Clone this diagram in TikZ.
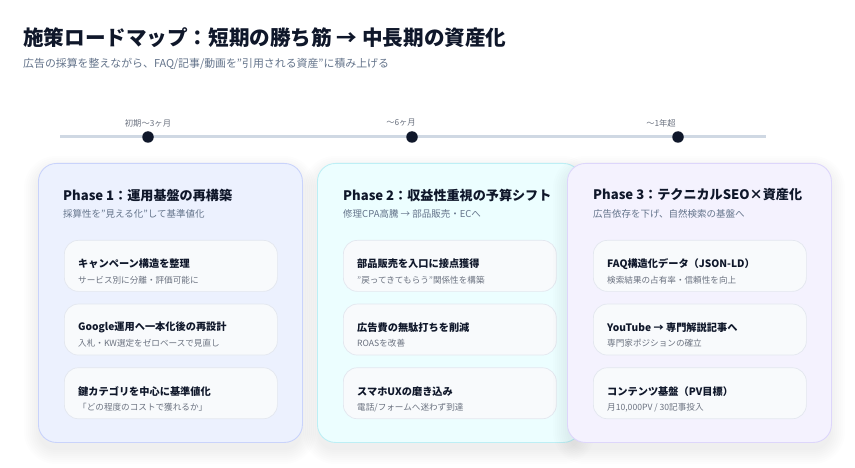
\documentclass[tikz,border=0pt]{standalone}
\usepackage{fontspec}
\setmainfont{Noto Sans CJK JP}
\usepackage{xcolor}
\usetikzlibrary{positioning,
	calc}
\definecolor{ink}{HTML}{0F172A}
\definecolor{muted}{HTML}{64748B}
\definecolor{faint}{HTML}{6B7280}
\definecolor{tlgray}{HTML}{CFD8E3}
\definecolor{pAfill}{HTML}{ECF1FE}
\definecolor{pAline}{HTML}{C9D3FB}
\definecolor{pBfill}{HTML}{ECFEFF}
\definecolor{pBline}{HTML}{BDEFF5}
\definecolor{pCfill}{HTML}{F4F2FE}
\definecolor{pCline}{HTML}{DDD6FB}
\definecolor{itemfill}{HTML}{F8FAFC}
\definecolor{itemline}{HTML}{E3E7EF}
\tikzstyle{tline}=[draw=tlgray, line width=3pt]
\tikzstyle{tdot}=[circle, fill=ink, minimum size=11.5pt, inner sep=0]
\tikzstyle{tlabel}=[inner sep=0, text=faint, font=\fontsize{8.3}{10}\selectfont]
\tikzstyle{card}=[draw, line width=0.9pt, rounded corners=18pt, minimum width=264pt,
		minimum height=279pt, anchor=north west, inner sep=0]
\tikzstyle{shadowlayer}=[fill=black, opacity=0.009]
\tikzstyle{itembox}=[draw=itemline, fill=itemfill, line width=0.7pt, rounded corners=14pt,
		minimum width=213pt, minimum height=51pt, inner sep=0]
\tikzstyle{phasehead}=[anchor=west, inner sep=0, text=ink, font=\fontsize{13.1}{16}\selectfont\bfseries]
\tikzstyle{phasesub}=[anchor=west, inner sep=0, text=muted, font=\fontsize{9.5}{12}\selectfont]
\tikzstyle{itemhead}=[anchor=west, inner sep=0, text=ink, font=\fontsize{10.2}{12}\selectfont\bfseries]
\tikzstyle{itemsub}=[anchor=west, inner sep=0, text=faint, font=\fontsize{8.6}{10}\selectfont]
% soft shadow under a card, #1 = left edge
\newcommand{\cardshadow}[1]{%
	\foreach \r in {0,2,...,14}
		\fill[shadowlayer, rounded corners={18+\r}] (#1-\r,170-\r) rectangle (#1+264+\r,450+\r);}

\begin{document}
\begin{tikzpicture}[x=1pt, y=-1pt]
	\fill[white] (0,0) rectangle (855,468);
	\useasboundingbox (0,0) rectangle (855,468);

	% header
	\node[anchor=west, inner sep=0, text=ink, font=\fontsize{20.6}{24}\selectfont\bfseries] (title) at (23,38)
		{施策ロードマップ：短期の勝ち筋 → 中長期の資産化};
	\node[anchor=west, inner sep=0, text=muted, font=\fontsize{10.9}{13}\selectfont] (subtitle) at (23,64)
		{広告の採算を整えながら、FAQ/記事/動画を"引用される資産"に積み上げる};

	% timeline
	\coordinate (tlstart) at (60,137);
	\coordinate (tlend) at (766,137);
	\draw[tline] (tlstart) -- (tlend);
	\node[tdot] (dotA) at (148,137) {};
	\node[tdot] (dotB) at (412,137) {};
	\node[tdot] (dotC) at (678,137) {};
	\node[tlabel] (labA) at (148,123) {初期〜3ヶ月};
	\node[tlabel] (labB) at (401,123) {〜6ヶ月};
	\node[tlabel] (labC) at (661,123) {〜1年超};

	% phase 1
	\cardshadow{38}
	\node[card, fill=pAfill, draw=pAline] (cardA) at (38,163) {};
	\node[phasehead] (headA) at (63,195) {Phase 1：運用基盤の再構築};
	\node[phasesub] (subA) at (63,214) {採算性を"見える化"して基準値化};
	\node[itembox, anchor=north west] (itemA1) at (64,240) {};
	\node[itembox, below=12pt of itemA1] (itemA2) {};
	\node[itembox, below=12pt of itemA2] (itemA3) {};
	\node[itemhead] (itemA1h) at ([xshift=14pt, yshift=-24pt]itemA1.north west) {キャンペーン構造を整理};
	\node[itemsub] (itemA1s) at ([xshift=14pt, yshift=-40pt]itemA1.north west) {サービス別に分離・評価可能に};
	\node[itemhead] (itemA2h) at ([xshift=14pt, yshift=-24pt]itemA2.north west) {Google運用へ一本化後の再設計};
	\node[itemsub] (itemA2s) at ([xshift=14pt, yshift=-40pt]itemA2.north west) {入札・KW選定をゼロベースで見直し};
	\node[itemhead] (itemA3h) at ([xshift=14pt, yshift=-24pt]itemA3.north west) {鍵カテゴリを中心に基準値化};
	\node[itemsub] (itemA3s) at ([xshift=14pt, yshift=-40pt]itemA3.north west) {「どの程度のコストで獲れるか」};

	% phase 2
	\cardshadow{317}
	\node[card, fill=pBfill, draw=pBline] (cardB) at (317,163) {};
	\node[phasehead] (headB) at (343,195) {Phase 2：収益性重視の予算シフト};
	\node[phasesub] (subB) at (343,214) {修理CPA高騰 → 部品販売・ECへ};
	\node[itembox, anchor=north west] (itemB1) at (343,240) {};
	\node[itembox, below=12pt of itemB1] (itemB2) {};
	\node[itembox, below=12pt of itemB2] (itemB3) {};
	\node[itemhead] (itemB1h) at ([xshift=14pt, yshift=-24pt]itemB1.north west) {部品販売を入口に接点獲得};
	\node[itemsub] (itemB1s) at ([xshift=14pt, yshift=-40pt]itemB1.north west) {"戻ってきてもらう"関係性を構築};
	\node[itemhead] (itemB2h) at ([xshift=14pt, yshift=-24pt]itemB2.north west) {広告費の無駄打ちを削減};
	\node[itemsub] (itemB2s) at ([xshift=14pt, yshift=-40pt]itemB2.north west) {ROASを改善};
	\node[itemhead] (itemB3h) at ([xshift=14pt, yshift=-24pt]itemB3.north west) {スマホUXの磨き込み};
	\node[itemsub] (itemB3s) at ([xshift=14pt, yshift=-40pt]itemB3.north west) {電話/フォームへ迷わず到達};

	% phase 3
	\cardshadow{567}
	\node[card, fill=pCfill, draw=pCline] (cardC) at (567,163) {};
	\node[phasehead] (headC) at (593,195) {Phase 3：テクニカルSEO×資産化};
	\node[phasesub] (subC) at (593,214) {広告依存を下げ、自然検索の基盤へ};
	\node[itembox, anchor=north west] (itemC1) at (593,240) {};
	\node[itembox, below=12pt of itemC1] (itemC2) {};
	\node[itembox, below=12pt of itemC2] (itemC3) {};
	\node[itemhead] (itemC1h) at ([xshift=14pt, yshift=-24pt]itemC1.north west) {FAQ構造化データ（JSON-LD）};
	\node[itemsub] (itemC1s) at ([xshift=14pt, yshift=-40pt]itemC1.north west) {検索結果の占有率・信頼性を向上};
	\node[itemhead] (itemC2h) at ([xshift=14pt, yshift=-24pt]itemC2.north west) {YouTube → 専門解説記事へ};
	\node[itemsub] (itemC2s) at ([xshift=14pt, yshift=-40pt]itemC2.north west) {専門家ポジションの確立};
	\node[itemhead] (itemC3h) at ([xshift=14pt, yshift=-24pt]itemC3.north west) {コンテンツ基盤（PV目標）};
	\node[itemsub] (itemC3s) at ([xshift=14pt, yshift=-40pt]itemC3.north west) {月10,000PV / 30記事投入};
\end{tikzpicture}
\end{document}
